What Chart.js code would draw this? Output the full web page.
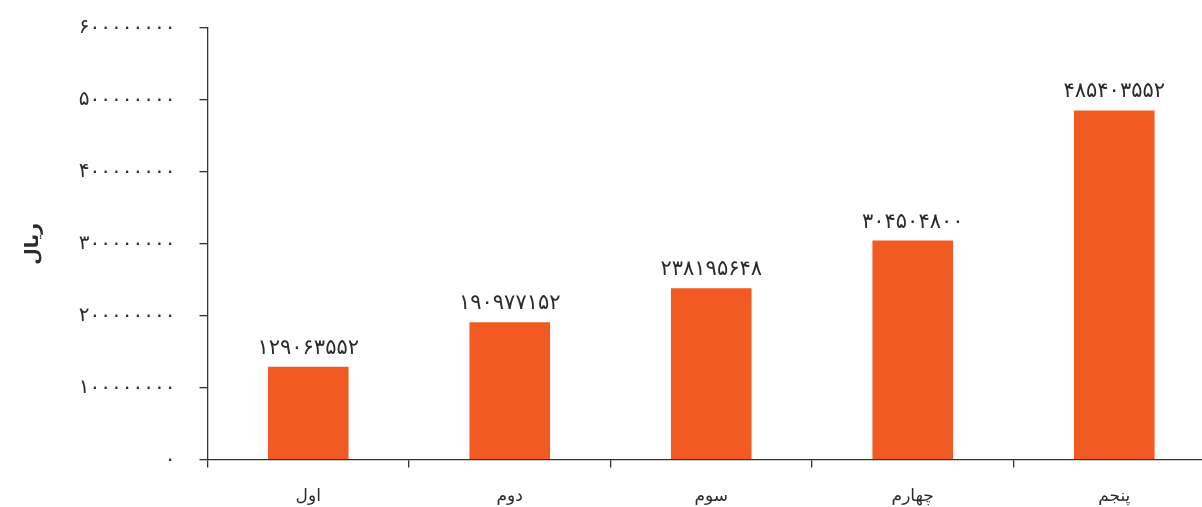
<!DOCTYPE html>
<html>
<head>
<meta charset="utf-8">
<script src="https://cdn.jsdelivr.net/npm/chart.js@4"></script>
<style>
  html, body { margin: 0; padding: 0; background: #fff; overflow: hidden; }
  #wrap { width: 1216px; height: 507px; overflow: hidden; }
  #salesChart { margin-top: -8px; display: block; }
</style>
</head>
<body>
<div id="wrap"><canvas id="salesChart" width="1216" height="536"></canvas></div>
<script>
// data
const categories = ["اول", "دوم", "سوم", "چهارم", "پنجم"];
const amounts = [129063552, 190977152, 238195648, 304504800, 485403552];
const tickValues = [0, 100000000, 200000000, 300000000, 400000000, 500000000, 600000000];
const axisTitle = "ریال";

const FONT = "'DejaVu Sans', 'Noto Sans', sans-serif";
const BAR_COLOR = "#F15A22";

// western digits -> persian digits
function toPersian(n) {
  const digits = "۰۱۲۳۴۵۶۷۸۹";
  return String(n).replace(/[0-9]/g, (d) => digits[d]);
}

// draws the value over each bar
const valueLabels = {
  id: "valueLabels",
  afterDatasetsDraw(chart) {
    const ctx = chart.ctx;
    const meta = chart.getDatasetMeta(0);
    ctx.save();
    ctx.font = "21px " + FONT;
    ctx.fillStyle = "#2b2b2b";
    ctx.textAlign = "center";
    ctx.textBaseline = "bottom";
    meta.data.forEach((bar, i) => {
      ctx.fillText(toPersian(amounts[i]), bar.x, bar.y - 8);
    });
    ctx.restore();
  },
};

const ctx = document.getElementById("salesChart").getContext("2d");
const salesChart = new Chart(ctx, {
  type: "bar",
  data: {
    labels: categories,
    datasets: [
      {
        data: amounts,
        backgroundColor: BAR_COLOR,
        barPercentage: 0.8,
        categoryPercentage: 0.5,
      },
    ],
  },
  options: {
    responsive: false,
    animation: false,
    layout: { padding: { top: 2, right: 1, left: 22, bottom: 2 } },
    plugins: {
      legend: { display: false },
      tooltip: { enabled: false },
    },
    scales: {
      x: {
        grid: {
          drawOnChartArea: false,
          color: "#333",
          tickLength: 8,
          lineWidth: 1.3,
        },
        border: { color: "#333", width: 1.3 },
        ticks: {
          color: "#2b2b2b",
          font: { family: FONT, size: 17 },
          padding: 19,
        },
      },
      y: {
        min: 0,
        max: 600000000,
        afterBuildTicks(axis) {
          axis.ticks = tickValues.map((v) => ({ value: v }));
        },
        grid: {
          drawOnChartArea: false,
          color: "#333",
          tickLength: 8,
          lineWidth: 1.3,
        },
        border: { color: "#333", width: 1.3 },
        ticks: {
          color: "#2b2b2b",
          font: { family: FONT, size: 20 },
          padding: 24,
          callback: (v) => toPersian(v),
        },
        title: {
          display: true,
          text: axisTitle,
          color: "#2b2b2b",
          font: { family: FONT, size: 19, weight: "bold" },
          padding: { top: 0, bottom: 10 },
        },
      },
    },
  },
  plugins: [valueLabels],
});
</script>
</body>
</html>
